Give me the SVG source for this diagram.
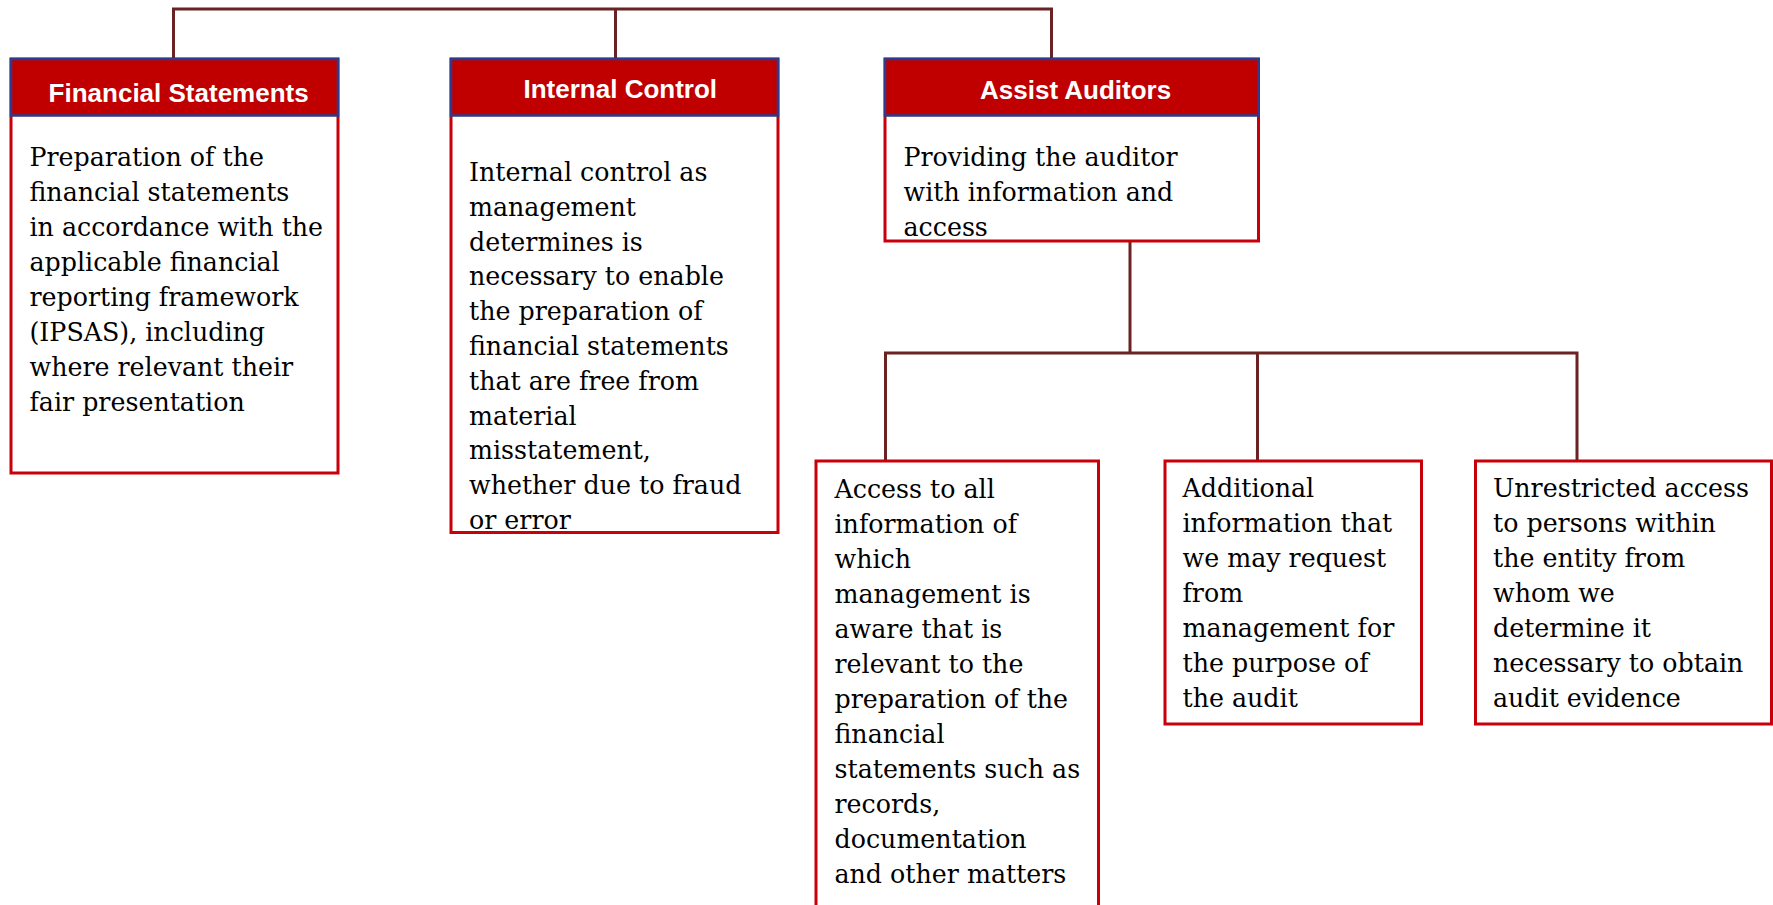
<svg xmlns="http://www.w3.org/2000/svg" width="1773" height="905" viewBox="0 0 1773 905">
<style>
.body{fill:#ffffff;stroke:#C8000A;stroke-width:3}
.head{fill:#C00000;stroke:#2E3A8C;stroke-width:2.5}
.ht{font-family:"Liberation Sans",Arial,sans-serif;font-weight:bold;font-size:26px;fill:#ffffff}
.bt{font-family:"DejaVu Serif",Georgia,serif;font-size:25.3px;fill:#000000}
.con{fill:none;stroke:#6B2222;stroke-width:3}
</style>
<rect width="1773" height="905" fill="#ffffff"/>
<g id="connectors">
<polyline class="con" points="173.5,59 173.5,9 1051.5,9 1051.5,59"/>
<line class="con" x1="615.5" y1="9" x2="615.5" y2="59"/>
<line class="con" x1="1130" y1="241" x2="1130" y2="353"/>
<polyline class="con" points="885.5,461 885.5,353 1577,353 1577,461"/>
<line class="con" x1="1257.5" y1="353" x2="1257.5" y2="461"/>
</g>
<g id="financial-statements">
<rect class="body" x="11" y="59" width="327" height="414"/>
<rect class="head" x="11" y="59" width="327" height="56.5"/>
<text class="ht" x="48.6" y="102">Financial Statements</text>
<text class="bt">
<tspan x="29.5" y="165.7">Preparation of the</tspan>
<tspan x="29.5" y="200.7">financial statements</tspan>
<tspan x="29.5" y="235.7">in accordance with the</tspan>
<tspan x="29.5" y="270.7">applicable financial</tspan>
<tspan x="29.5" y="305.7">reporting framework</tspan>
<tspan x="29.5" y="340.7">(IPSAS), including</tspan>
<tspan x="29.5" y="375.7">where relevant their</tspan>
<tspan x="29.5" y="410.7">fair presentation</tspan>
</text>
</g>
<g id="internal-control">
<rect class="body" x="451" y="59" width="327" height="473.5"/>
<rect class="head" x="451" y="59" width="327" height="56.5"/>
<text class="ht" x="523.5" y="97.5">Internal Control</text>
<text class="bt">
<tspan x="469" y="181">Internal control as</tspan>
<tspan x="469" y="215.8">management</tspan>
<tspan x="469" y="250.6">determines is</tspan>
<tspan x="469" y="285.4">necessary to enable</tspan>
<tspan x="469" y="320.2">the preparation of</tspan>
<tspan x="469" y="355">financial statements</tspan>
<tspan x="469" y="389.8">that are free from</tspan>
<tspan x="469" y="424.6">material</tspan>
<tspan x="469" y="459.4">misstatement,</tspan>
<tspan x="469" y="494.2">whether due to fraud</tspan>
<tspan x="469" y="529">or error</tspan>
</text>
</g>
<g id="assist-auditors">
<rect class="body" x="885" y="59" width="373.5" height="182"/>
<rect class="head" x="885" y="59" width="373.5" height="56.5"/>
<text class="ht" x="980" y="98.6">Assist Auditors</text>
<text class="bt">
<tspan x="903.5" y="165.5">Providing the auditor</tspan>
<tspan x="903.5" y="200.5">with information and</tspan>
<tspan x="903.5" y="235.5">access</tspan>
</text>
</g>
<g id="access-information">
<rect class="body" x="816" y="461" width="282.5" height="470"/>
<text class="bt">
<tspan x="834.5" y="498">Access to all</tspan>
<tspan x="834.5" y="533">information of</tspan>
<tspan x="834.5" y="568">which</tspan>
<tspan x="834.5" y="603">management is</tspan>
<tspan x="834.5" y="638">aware that is</tspan>
<tspan x="834.5" y="673">relevant to the</tspan>
<tspan x="834.5" y="708">preparation of the</tspan>
<tspan x="834.5" y="743">financial</tspan>
<tspan x="834.5" y="778">statements such as</tspan>
<tspan x="834.5" y="813">records,</tspan>
<tspan x="834.5" y="848">documentation</tspan>
<tspan x="834.5" y="883">and other matters</tspan>
</text>
</g>
<g id="additional-information">
<rect class="body" x="1165" y="461" width="256.5" height="263"/>
<text class="bt">
<tspan x="1182.5" y="497">Additional</tspan>
<tspan x="1182.5" y="532">information that</tspan>
<tspan x="1182.5" y="567">we may request</tspan>
<tspan x="1182.5" y="602">from</tspan>
<tspan x="1182.5" y="637">management for</tspan>
<tspan x="1182.5" y="672">the purpose of</tspan>
<tspan x="1182.5" y="707">the audit</tspan>
</text>
</g>
<g id="unrestricted-access">
<rect class="body" x="1475.5" y="461" width="296" height="263"/>
<text class="bt">
<tspan x="1493" y="497">Unrestricted access</tspan>
<tspan x="1493" y="532">to persons within</tspan>
<tspan x="1493" y="567">the entity from</tspan>
<tspan x="1493" y="602">whom we</tspan>
<tspan x="1493" y="637">determine it</tspan>
<tspan x="1493" y="672">necessary to obtain</tspan>
<tspan x="1493" y="707">audit evidence</tspan>
</text>
</g>
</svg>
